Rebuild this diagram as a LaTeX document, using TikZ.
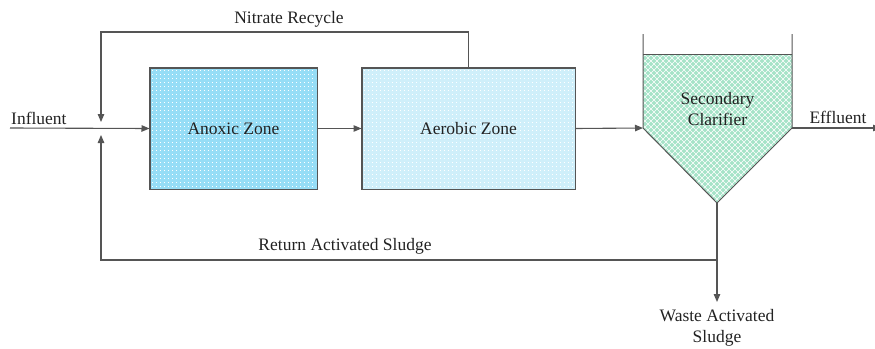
\documentclass[tikz,border=0pt]{standalone}
\usepackage{fontspec}
\setmainfont{Liberation Serif}
\usetikzlibrary{arrows.meta}
\definecolor{linegray}{HTML}{555555}
\definecolor{anoxicblue}{HTML}{96DDF6}
\definecolor{aerobicblue}{HTML}{CFEFFA}
\definecolor{clarmint}{HTML}{A6E3C8}
\definecolor{txt}{HTML}{222222}
\begin{document}
\begin{tikzpicture}[x=1pt,y=-1pt,
  flow/.style={draw=linegray,line width=1.1pt,-{Triangle[length=8pt,width=6.5pt]}},
  pipe/.style={draw=linegray,line width=1.1pt},
  zone/.style={draw=linegray,line width=1pt,minimum height=121pt,inner sep=0pt},
  dotrow/.style={white,line width=0.9pt,dash pattern=on 0.9pt off 3.1pt},
  hatch/.style={white,line width=0.6pt},
  lbl/.style={font=\rmfamily\fontsize{17.5}{21}\selectfont,text=txt,inner sep=0pt,align=center}]
\useasboundingbox (0,0) rectangle (875,348);

% outer labels
\node[lbl,anchor=south west] (infl) at (11,125) {Influent};
\node[lbl] (nrl) at (289,19) {Nitrate Recycle};
\node[lbl] (effl) at (838,117) {Effluent};
\node[lbl] (rasl) at (345,246) {Return Activated Sludge};
\node[lbl] (wasl) at (717,327.5) {Waste Activated\\Sludge};

% reactor zones (dotted fill drawn as dashed white rows)
\node[zone,minimum width=167pt,fill=anoxicblue] (anoxic) at (233.5,128.5) {};
\node[zone,minimum width=213pt,fill=aerobicblue] (aerobic) at (468.5,128.5) {};
\foreach \z in {anoxic,aerobic}{
  \begin{scope}
    \clip ([shift={(1.5,-1.5)}]\z.south west) rectangle ([shift={(-1.5,1.5)}]\z.north east);
    \foreach \r in {0,...,30}{
      \draw[dotrow] (140,70+4*\r) -- (580,70+4*\r);
    }
  \end{scope}
  \draw[draw=linegray,line width=1pt] (\z.south west) rectangle (\z.north east);
}

% secondary clarifier (cross-hatched hopper)
\coordinate (cl-tl) at (643,54);
\coordinate (cl-tr) at (792,54);
\coordinate (cl-r) at (792,128);
\coordinate (cl-l) at (643,128);
\coordinate (cl-b) at (717,203);
\fill[clarmint] (cl-tl) -- (cl-tr) -- (cl-r) -- (cl-b) -- (cl-l) -- cycle;
\begin{scope}
  \clip (cl-tl) -- (cl-tr) -- (cl-r) -- (cl-b) -- (cl-l) -- cycle;
  \foreach \k in {0,...,60}{
    \draw[hatch] (560+6*\k,54) -- (560+6*\k+160,214);
    \draw[hatch] (640+6*\k,54) -- (640+6*\k-160,214);
  }
\end{scope}
\draw[pipe,line width=1pt] (643,34) -- (cl-l) -- (cl-b) -- (cl-r) -- (792,34);
\draw[pipe,line width=1pt] (cl-tl) -- (cl-tr);

% junction points
\coordinate (inf) at (10,128);
\coordinate (nrCorner) at (101,32);
\coordinate (nrTip) at (101,122);
\coordinate (rasTip) at (101,135);
\coordinate (rasCorner) at (101,260);
\coordinate (rasSplit) at (717,260);
\coordinate (wasTip) at (717,302);
\coordinate (eff) at (881,128);

% main flow
\draw[flow] (inf) -- (anoxic.west);
\draw[flow] (anoxic.east) -- (aerobic.west);
\draw[flow] (aerobic.east) -- (cl-l);
\draw[flow] (cl-r) -- (eff);

% nitrate recycle
\draw[flow] (aerobic.north) |- (nrCorner) -- (nrTip);

% return and waste sludge
\draw[pipe] (cl-b) -- (rasSplit);
\draw[flow] (rasSplit) -- (wasTip);
\draw[flow] (rasSplit) -- (rasCorner) -- (rasTip);

% zone labels
\node[lbl] (anoxl) at (anoxic.center) {Anoxic Zone};
\node[lbl] (aerl) at (aerobic.center) {Aerobic Zone};
\node[lbl] (clar) at (717.5,109.5) {Secondary\\Clarifier};
\end{tikzpicture}
\end{document}
